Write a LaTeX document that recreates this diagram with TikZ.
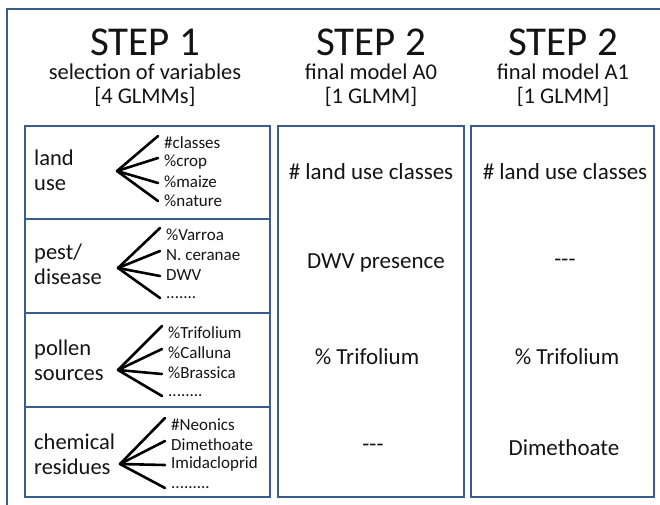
\documentclass[tikz,border=0pt]{standalone}
\usepackage{fontspec}
\setmainfont{Carlito}
\definecolor{frame}{RGB}{56,93,138}
\definecolor{txt}{RGB}{20,20,20}
\begin{document}
\begin{tikzpicture}[x=1pt,y=-1pt,
 box/.style={draw=frame,line width=2.4pt},
 head/.style={font=\fontsize{41}{44}\selectfont, text=txt, inner sep=0},
 sub/.style={font=\fontsize{22.5}{26}\selectfont, text=txt, inner sep=0},
 cat/.style={font=\fontsize{22.5}{25}\selectfont, text=txt, align=left, anchor=west, inner sep=0},
 item/.style={font=\fontsize{17}{19}\selectfont, text=txt, anchor=west, inner sep=0},
 res/.style={font=\fontsize{23}{26}\selectfont, text=txt, inner sep=0},
 fan/.style={line width=2.6pt, black, line cap=round}]
\useasboundingbox (0,0) rectangle (660,504);
\clip (0,0) rectangle (660,504);
\draw[box] (7,9) rectangle (690,530);
% column boxes
\draw[box] (25,126) rectangle (270,219);
\draw[box] (25,219) rectangle (270,313);
\draw[box] (25,313) rectangle (270,407);
\draw[box] (25,407) rectangle (270,497);
\draw[box] (278,126) rectangle (464,497);
\draw[box] (471,126) rectangle (654,497);
% headings
\node[head] (h1) at (145,42) {STEP 1};
\node[sub] (s1) at (145,72) {selection of variables};
\node[sub] (b1) at (145,97) {[4 GLMMs]};
\node[head] (h2) at (371,42) {STEP 2};
\node[sub] (s2) at (371,72) {final model A0};
\node[sub] (b2) at (371,97) {[1 GLMM]};
\node[head] (h3) at (563,42) {STEP 2};
\node[sub] (s3) at (563,72) {final model A1};
\node[sub] (b3) at (563,97) {[1 GLMM]};
% categories
\node[cat] (c1) at (34,170) {land\\use};
\node[cat] (c2) at (34,264.5) {pest/\\disease};
\node[cat] (c3) at (34,360) {pollen\\sources};
\node[cat] (c4) at (34,454.5) {chemical\\residues};
% items
\node[item] (i11) at (164,143) {\#classes};
\node[item] (i12) at (164,162) {\%crop};
\node[item] (i13) at (164,182) {\%maize};
\node[item] (i14) at (164,201) {\%nature};
\node[item] (i21) at (166,235) {\%Varroa};
\node[item] (i22) at (166,255) {N. ceranae};
\node[item] (i23) at (166,275) {DWV};
\node[item] (i24) at (166,298) {.......};
\node[item] (i31) at (168,333) {\%Trifolium};
\node[item] (i32) at (168,353) {\%Calluna};
\node[item] (i33) at (168,373) {\%Brassica};
\node[item] (i34) at (168,396) {........};
\node[item] (i41) at (171,425) {\#Neonics};
\node[item] (i42) at (171,445) {Dimethoate};
\node[item] (i43) at (171,464) {Imidacloprid};
\node[item] (i44) at (171,488) {.........};
% fans
\coordinate (a1) at (117,171);
\coordinate (a2) at (118,268);
\coordinate (a3) at (118,370);
\coordinate (a4) at (120,464);
\foreach \k in {1,2,3,4}{
  \draw[fan] (a\k) -- ([shift={(-6,-7)}]i\k1.west);
  \draw[fan] (a\k) -- ([shift={(-6,-4)}]i\k2.west);
  \draw[fan] (a\k) -- ([shift={(-6,1)}]i\k3.west);
  \draw[fan] (a\k) -- ([shift={(-6,0)}]i\k4.west);
}
% results
\node[res] (m1) at (371,172) {\# land use classes};
\node[res] (m2) at (376,263) {DWV presence};
\node[res] (m3) at (367,357) {\% Trifolium};
\node[res] (m4) at (373,448) {-{}-{}-};
\node[res] (r1) at (565,172) {\# land use classes};
\node[res] (r2) at (565,263) {-{}-{}-};
\node[res] (r3) at (567,357) {\% Trifolium};
\node[res] (r4) at (564,448) {Dimethoate};
\end{tikzpicture}
\end{document}
